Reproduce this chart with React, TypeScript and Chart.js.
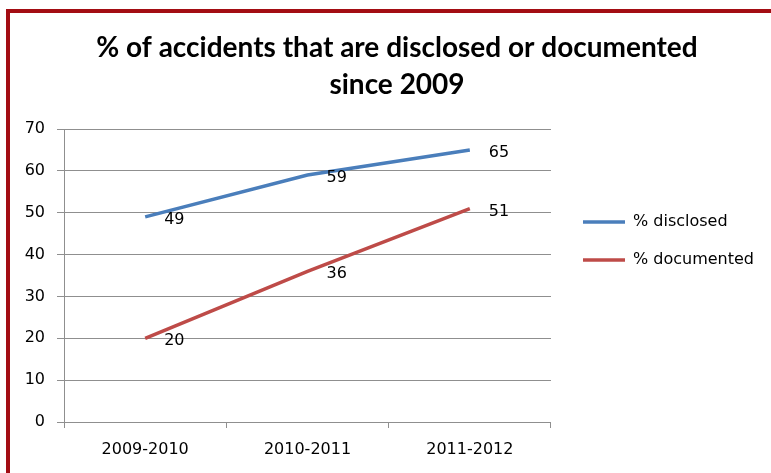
import React, { useEffect, useRef } from "react";
import { Chart, registerables } from "chart.js";

Chart.register(...registerables);

const categories = ["2009-2010", "2010-2011", "2011-2012"];
const disclosed = [49, 59, 65];
const documented = [20, 36, 51];
const yTicks = [0, 10, 20, 30, 40, 50, 60, 70];
const titleLines = ["% of accidents that are disclosed or documented", "since 2009"];

const BLUE = "#4a7ebb";
const RED = "#be4b48";
const GRID = "#8f8f8f";
const FONT = "'DejaVu Sans', sans-serif";

const borderPlugin = {
  id: "redBorder",
  beforeDraw(chart: any) {
    const ctx = chart.ctx;
    ctx.save();
    ctx.fillStyle = "#ffffff";
    ctx.fillRect(0, 0, chart.width, chart.height);
    ctx.fillStyle = "#a30d13";
    ctx.fillRect(6, 9, 4, chart.height);
    ctx.fillRect(6, 9, chart.width, 4);
    ctx.restore();
  },
};

const boxShift = {
  id: "boxShift",
  afterLayout(chart: any) {
    const lg = chart.legend;
    if (lg) {
      lg.left += 10;
      lg.right = chart.width;
      lg.top += 4.5;
      lg.bottom += 4.5;
    }
    const tb = chart.titleBlock;
    if (tb) {
      const dx = 397 - (tb.left + tb.right) / 2;
      tb.left += dx;
      tb.right += dx;
    }
  },
};

const dataLabels = {
  id: "dataLabels",
  afterDatasetsDraw(chart: any) {
    const ctx = chart.ctx;
    ctx.save();
    ctx.font = `16px ${FONT}`;
    ctx.fillStyle = "#000";
    ctx.textAlign = "left";
    ctx.textBaseline = "middle";
    chart.data.datasets.forEach((ds: any, i: number) => {
      const meta = chart.getDatasetMeta(i);
      meta.data.forEach((el: any, j: number) => {
        ctx.fillText(String(ds.data[j]), el.x + 19, el.y + 3);
      });
    });
    ctx.restore();
  },
};

export default function App() {
  const ref = useRef<HTMLCanvasElement>(null);
  useEffect(() => {
    if (!ref.current) return;
    const chart = new Chart(ref.current, {
      type: "line",
      data: {
        labels: categories,
        datasets: [
          {
            label: "% disclosed",
            data: disclosed,
            borderColor: BLUE,
            backgroundColor: BLUE,
            borderWidth: 3.5,
            pointRadius: 0,
            tension: 0,
          },
          {
            label: "% documented",
            data: documented,
            borderColor: RED,
            backgroundColor: RED,
            borderWidth: 3.5,
            pointRadius: 0,
            tension: 0,
          },
        ],
      },
      options: {
        responsive: false,
        animation: false,
        layout: { padding: { left: 10, right: 39.67, top: 0, bottom: 0 } },
        plugins: {
          title: {
            display: true,
            text: titleLines,
            color: "#000",
            font: { family: "Lato, sans-serif", weight: "bold", size: 28, lineHeight: 37 / 28 },
            padding: { top: 29, bottom: 26 },
          },
          legend: {
            position: "right",
            labels: {
              color: "#000",
              font: { family: FONT, size: 16 },
              usePointStyle: true,
              pointStyle: "line",
              pointStyleWidth: 42,
              boxWidth: 42,
              padding: 22,
            },
          },
          tooltip: { enabled: false },
        },
        scales: {
          x: {
            type: "category",
            offset: true,
            grid: {
              offset: true,
              drawOnChartArea: false,
              drawTicks: true,
              tickLength: 6,
              color: GRID,
            },
            border: { color: GRID },
            ticks: { color: "#000", font: { family: FONT, size: 16 }, padding: 12 },
            afterFit(scale: any) {
              scale.height = 51;
            },
          },
          y: {
            min: 0,
            max: 70,
            afterBuildTicks(scale: any) {
              scale.ticks = yTicks.map((v) => ({ value: v }));
            },
            grid: { color: GRID, tickLength: 7, drawTicks: true },
            border: { color: GRID },
            ticks: { color: "#000", font: { family: FONT, size: 16 }, padding: 12 },
            afterFit(scale: any) {
              scale.width = 54;
            },
          },
        },
      },
      plugins: [borderPlugin, boxShift, dataLabels],
    });
    return () => chart.destroy();
  }, []);
  return (
    <canvas
      ref={ref}
      width={771}
      height={473}
      style={{ position: "absolute", left: 0, top: 0, width: 771, height: 473 }}
    />
  );
}
